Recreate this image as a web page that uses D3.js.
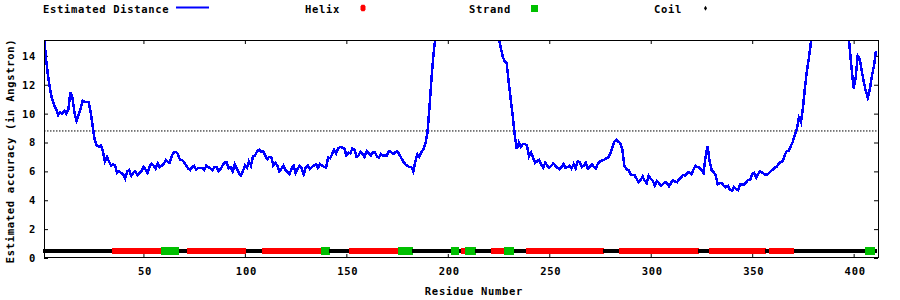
<!DOCTYPE html>
<html>
<head>
<meta charset="utf-8">
<script src="https://cdn.jsdelivr.net/npm/d3@7"></script>
<style>
body { margin: 0; background: #fff; }
text { font-family: "DejaVu Sans Mono", monospace; font-weight: bold; font-size: 10.5px; letter-spacing: 0.7px; fill: #000; }
</style>
</head>
<body>
<div id="wrapper"></div>
<script>
// estimated distance per residue
const residues = [1,2,3,4,5,6,7,8,9,10,11,12,13,14,15,16,17,18,19,20,21,22,23,24,25,26,27,28,29,30,
	31,32,33,34,35,36,37,38,39,40,41,42,43,44,45,46,47,48,49,50,51,52,53,54,55,56,57,58,59,60,
	61,62,63,64,65,66,67,68,69,70,71,72,73,74,75,76,77,79,80,81,82,83,84,85,86,87,88,89,90,
	91,92,93,94,95,97,98,99,100,101,102,103,104,105,106,107,108,109,110,111,112,113,114,115,116,117,118,119,120,
	122,123,124,125,126,127,128,129,130,131,132,133,135,136,137,138,140,141,142,143,144,145,146,147,149,150,
	151,152,153,154,155,156,157,158,159,160,161,162,163,164,165,166,167,168,170,171,172,173,175,176,177,178,179,181,182,183,
	184,185,186,187,188,189,190,191,192,193,194,200,210,220,
	225,226,227,228,229,230,231,232,233,234,235,236,237,238,239,240,241,242,243,244,245,246,247,248,249,250,
	251,252,253,254,255,256,257,258,259,260,261,262,263,264,265,266,267,268,269,270,271,272,273,274,275,276,277,278,279,280,
	281,282,283,284,285,286,287,288,289,290,291,292,293,294,295,296,297,298,299,300,301,302,303,304,305,306,307,308,309,310,
	311,312,313,314,315,316,317,318,319,320,321,322,323,324,325,326,327,328,329,330,331,332,333,334,335,336,337,338,339,340,
	341,342,343,344,345,346,347,348,349,350,351,352,353,354,355,356,357,358,359,360,361,362,363,364,365,366,367,368,369,370,
	371,372,373,374,375,376,377,378,379,380,385,392,
	397,398,399,400,401,402,403,404,405,406,407,408,409,410,411];
const distance = [15.5,13.8,12.6,11.7,11.0,10.6,10.3,9.9,10.1,10.0,10.2,10.0,10.3,11.5,11.1,10.1,9.5,9.9,10.3,10.9,10.8,10.8,10.8,10.1,9.1,8.2,7.8,7.7,7.8,7.4,
	6.7,7.0,6.7,6.4,6.5,6.4,5.9,6.0,5.9,5.8,5.5,6.0,6.1,5.7,5.9,6.0,5.75,5.9,6.0,6.3,6.15,5.9,6.3,6.55,6.4,6.2,6.55,6.3,6.4,6.5,
	6.8,6.65,6.6,7.1,7.3,7.35,7.2,6.8,6.8,6.65,6.4,6.2,6.1,6.3,6.4,6.1,6.25,6.25,6.1,6.4,6.3,6.2,6.1,6.3,6.3,6.0,6.15,6.4,6.6,
	6.65,6.2,6.3,6.0,6.5,5.9,5.7,6.0,6.4,6.25,6.7,6.4,7.05,7.1,7.4,7.5,7.35,7.4,7.1,6.85,7.0,7.0,6.4,6.6,6.4,6.0,6.2,6.4,6.1,
	5.8,6.2,6.4,5.9,6.2,6.4,6.2,5.8,6.3,6.4,6.15,6.3,6.5,6.25,6.5,6.4,6.25,6.95,6.9,7.2,7.5,7.25,7.6,7.7,7.6,7.1,
	7.3,7.25,7.6,7.5,7.0,7.1,7.35,7.2,7.0,7.4,7.25,7.1,7.3,7.35,7.05,6.95,7.2,7.1,7.1,7.4,7.35,7.2,7.4,7.2,6.95,6.7,6.5,6.3,6.3,6.0,
	6.7,7.2,7.0,7.35,7.55,7.95,8.7,10.5,12.5,14.2,15.4,19,21,19,
	15.4,14.6,14.0,13.6,13.5,12.2,11.0,9.85,8.5,7.55,8.0,7.7,7.9,7.9,7.8,7.05,7.3,6.95,6.6,6.7,6.8,6.5,6.25,6.6,6.4,6.25,
	6.4,6.55,6.4,6.25,6.15,6.3,6.5,6.25,6.3,6.4,6.2,6.5,6.2,6.7,6.65,6.3,6.4,6.6,6.2,6.3,6.5,6.3,6.2,6.55,6.7,6.75,6.8,6.9,6.95,7.2,
	7.6,8.05,8.2,8.05,7.95,7.5,6.4,6.15,6.1,5.8,5.75,5.75,5.5,5.25,5.4,5.65,5.35,5.2,5.7,5.5,5.35,5.0,5.35,5.2,5.0,5.1,5.25,5.2,4.95,5.2,
	5.4,5.3,5.25,5.45,5.6,5.75,5.7,5.9,5.95,5.8,6.1,6.4,6.3,6.25,6.1,5.9,7.0,7.75,6.7,6.1,5.95,5.75,5.1,5.2,5.2,5.0,4.9,5.0,4.75,4.65,
	4.9,4.8,4.7,5.1,5.1,5.1,5.25,5.4,5.4,5.8,5.9,5.55,5.85,6.0,5.9,5.8,5.75,5.85,6.0,6.1,6.25,6.3,6.5,6.65,6.7,7.1,7.4,7.4,7.75,8.05,
	8.5,8.9,9.7,9.4,10.4,11.8,13.0,13.9,15.0,15.5,19,20,
	16.5,14.6,13.1,11.75,12.5,14.0,13.8,12.95,12.2,11.55,11.1,11.7,12.6,13.3,14.35];

// secondary structure segments: C coil, H helix, E strand
const ssStart = [1,35,59,68,72,101,109,138,142,152,176,183,202,206,207,209,214,222,228,233,239,277,285,324,329,357,359,371,406,411];
const ssEnd   = [34,58,67,71,100,108,137,141,151,175,182,201,205,206,208,213,221,227,232,238,276,284,323,328,356,358,370,405,410,411];
const ssType  = ["C","H","E","C","H","C","H","E","C","H","E","C","E","C","H","E","C","H","E","C","H","C","H","C","H","C","H","C","E","C"];

const xTicks = [50,100,150,200,250,300,350,400];
const yTicks = [0,2,4,6,8,10,12,14];
const threshold = 8.8;
const ssLevel = 0.5;

let dimensions = {
	width: 900,
	height: 300,
	margin: { top: 40, right: 22, bottom: 42, left: 44 }
};
dimensions.boundedWidth = dimensions.width - dimensions.margin.left - dimensions.margin.right;
dimensions.boundedHeight = dimensions.height - dimensions.margin.top - dimensions.margin.bottom;

const wrapper = d3.select("#wrapper").append("svg")
	.attr("width", dimensions.width)
	.attr("height", dimensions.height);

const xScale = d3.scaleLinear().domain([1, 412]).range([0, dimensions.boundedWidth]);
const yScale = d3.scaleLinear().domain([0, 15.1]).range([dimensions.boundedHeight, 0]);

wrapper.append("defs").append("clipPath").attr("id", "plotclip")
	.append("rect")
	.attr("width", dimensions.boundedWidth)
	.attr("height", dimensions.boundedHeight);

const container = wrapper.append("g")
	.attr("transform", `translate(${dimensions.margin.left},${dimensions.margin.top})`);

// axes, ticks pointing inwards on all four sides
const xAxis = container.append("g").attr("transform", `translate(0,${dimensions.boundedHeight})`)
	.call(d3.axisBottom(xScale).tickValues(xTicks).tickSizeInner(-4).tickSizeOuter(0).tickPadding(10));
const xAxisTop = container.append("g")
	.call(d3.axisTop(xScale).tickValues(xTicks).tickSizeInner(-4).tickSizeOuter(0).tickFormat(""));
const yAxis = container.append("g")
	.call(d3.axisLeft(yScale).tickValues(yTicks).tickSizeInner(-4).tickSizeOuter(0).tickPadding(8));
const yAxisRight = container.append("g").attr("transform", `translate(${dimensions.boundedWidth},0)`)
	.call(d3.axisRight(yScale).tickValues(yTicks).tickSizeInner(-4).tickSizeOuter(0).tickFormat(""));

container.selectAll(".domain").remove();
container.selectAll(".tick line").attr("stroke", "#000");
container.selectAll(".tick text").attr("font-family", null).attr("font-size", null).attr("fill", null);
xAxis.selectAll(".tick text").attr("dx", 1);

// threshold
container.append("line")
	.attr("x1", 0).attr("x2", dimensions.boundedWidth)
	.attr("y1", yScale(threshold)).attr("y2", yScale(threshold))
	.attr("stroke", "#000").attr("stroke-width", 1)
	.attr("stroke-dasharray", "1.5,1.5");

// distance line
const lineData = residues.map((r, i) => [r, distance[i]]);
container.append("path")
	.datum(lineData)
	.attr("clip-path", "url(#plotclip)")
	.attr("fill", "none")
	.attr("stroke", "#0000ff")
	.attr("stroke-width", 2.5)
	.attr("shape-rendering", "crispEdges")
	.attr("d", d3.line().x(d => xScale(d[0])).y(d => yScale(d[1])));

// secondary structure strip, one block per residue
let ssData = [];
ssStart.forEach((s, i) => {
	for (let r = s; r <= ssEnd[i]; r++) ssData.push({ r: r, t: ssType[i] });
});

const ssHeight = { C: 4, H: 6.5, E: 7.5 };
const ssColor = { C: "#000", H: "#ff0000", E: "#00c000" };
const step = xScale(2) - xScale(1);

container.append("g")
	.attr("shape-rendering", "crispEdges")
	.selectAll("rect")
	.data(ssData)
	.enter()
	.append("rect")
	.attr("x", d => xScale(d.r) - step / 2)
	.attr("y", d => yScale(ssLevel) - ssHeight[d.t] / 2)
	.attr("width", step + 0.5)
	.attr("height", d => ssHeight[d.t])
	.attr("fill", d => ssColor[d.t]);

// border
container.append("rect")
	.attr("x", 0.5).attr("y", 0.5)
	.attr("width", dimensions.boundedWidth)
	.attr("height", dimensions.boundedHeight - 1)
	.attr("fill", "none")
	.attr("stroke", "#000")
	.attr("stroke-width", 1);

// axis titles
wrapper.append("text")
	.attr("x", 474).attr("y", 291)
	.attr("dy", "0.36em")
	.attr("text-anchor", "middle")
	.text("Residue Number");

wrapper.append("text")
	.attr("transform", "translate(10,151) rotate(-90)")
	.attr("dy", "0.36em")
	.attr("text-anchor", "middle")
	.text("Estimated accuracy (in Angstron)");

// legend
const legend = wrapper.append("g");
legend.append("text").attr("x", 43).attr("y", 9).attr("dy", "0.36em").text("Estimated Distance");
legend.append("line").attr("x1", 176).attr("x2", 209).attr("y1", 7.5).attr("y2", 7.5)
	.attr("stroke", "#0000ff").attr("stroke-width", 2);
legend.append("text").attr("x", 305).attr("y", 9).attr("dy", "0.36em").text("Helix");
legend.append("path").attr("transform", "translate(363,8)")
	.attr("d", "M-1.5,-3.2L1.5,-3.2L2.5,-1.5L2.5,1.5L1.5,3.2L-1.5,3.2L-2.5,1.5L-2.5,-1.5Z").attr("fill", ssColor.H);
legend.append("text").attr("x", 469).attr("y", 9).attr("dy", "0.36em").text("Strand");
legend.append("rect").attr("x", 531).attr("y", 5).attr("width", 7).attr("height", 7).attr("fill", ssColor.E);
legend.append("text").attr("x", 654).attr("y", 9).attr("dy", "0.36em").text("Coil");
legend.append("path").attr("transform", "translate(705.5,8.3)").attr("d", "M0,-2.5L1.5,0L0,2.5L-1.5,0Z").attr("fill", "#000");
</script>
</body>
</html>
